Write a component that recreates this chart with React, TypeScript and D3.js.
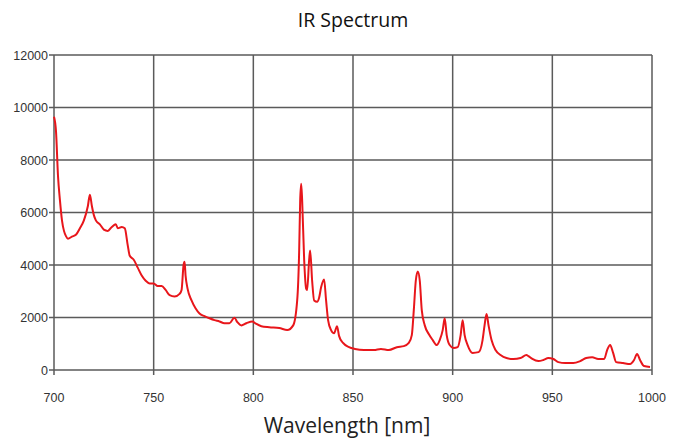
import React from "react";
import * as d3 from "d3";

const wavelength = [
  700, 701, 702, 703, 704, 705, 706, 707, 709, 711, 713, 715, 717, 718, 719, 720, 721, 723, 725, 727, 729, 731, 732, 734, 735.5,
  737, 738, 740, 742, 744, 746, 748, 750, 752, 754, 756, 758, 760.5, 763, 764, 765, 765.5, 766, 767, 769, 771, 773, 775.5, 778,
  780.5, 783, 785.5, 788, 790.5, 792, 794, 796.5, 799.5, 801, 804, 808, 813, 817, 820, 822, 823, 823.5, 824, 824.5, 825.5, 826.5,
  827, 828, 828.5, 829.5, 830.5, 832, 833, 834, 835.5, 836.5, 837.5, 839, 840.5, 842, 843, 845, 848, 851, 855.5, 860.5, 864, 868,
  872, 875.5, 878, 879.5, 880.5, 881.5, 882.5, 883.5, 884.5, 886, 888, 890, 892, 893.5, 895, 896, 897, 898.5, 900.5, 902.5, 904,
  905, 906, 907.5, 910, 913, 915, 916, 917, 918, 919.5, 921.5, 924, 927, 930.5, 934, 937, 938, 940, 943, 945.5, 948, 950.5, 953,
  956.5, 960.5, 964, 967, 970, 973, 976, 977.5, 979, 980.5, 982, 985.5, 989, 991, 992.5, 994, 996, 999,
];

const intensity = [
  9650, 9100, 7400, 6450, 5700, 5300, 5100, 5000, 5080, 5150, 5400, 5700, 6250, 6680, 6250, 5900, 5700, 5550, 5350, 5300, 5450, 5550, 5400, 5450, 5400,
  4750, 4350, 4200, 3900, 3600, 3400, 3300, 3300, 3200, 3200, 3050, 2850, 2800, 2900, 3050, 4000, 4120, 3600, 3100, 2650, 2350, 2150, 2050, 1970,
  1900, 1850, 1780, 1780, 1990, 1820, 1700, 1780, 1850, 1780, 1670, 1630, 1600, 1520, 1700, 2650, 4550, 6450, 7100, 6450, 4200, 3100,
  3050, 4200, 4550, 3400, 2650, 2600, 2750, 3150, 3450, 2650, 1900, 1520, 1400, 1670, 1300, 1030, 870, 800, 760, 760, 800, 760,
  870, 910, 1030, 1330, 2280, 3400, 3750, 3400, 2280, 1700, 1370, 1140, 950, 1140, 1520, 1970, 1330, 950, 835, 870, 1330,
  1900, 1330, 950, 650, 680, 1140, 1700, 2130, 1700, 1140, 760, 570, 455, 420, 455, 570, 530, 420, 340, 380, 455, 420, 300,
  265, 265, 340, 455, 490, 420, 420, 760, 950, 650, 300, 265, 230, 380, 610, 380, 150, 115,
];

const xTicks = [700, 750, 800, 850, 900, 950, 1000];
const yTicks = [0, 2000, 4000, 6000, 8000, 10000, 12000];
const title = "IR Spectrum";
const xLabel = "Wavelength [nm]";

export default function App() {
  const W = 674, H = 439;
  const left = 54, right = 652, top = 55, bottom = 370;
  const x = d3.scaleLinear().domain([700, 1000]).range([left, right]);
  const y = d3.scaleLinear().domain([0, 12000]).range([bottom, top]);
  const pts: [number, number][] = wavelength.map((w, i) => [w, intensity[i]]);
  const line = d3.line<[number, number]>().x(d => x(d[0])).y(d => y(d[1])).curve(d3.curveMonotoneX);
  const grid = "#5a5a5a";
  return (
    <svg width={W} height={H} style={{ position: "absolute", left: 0, top: 0, background: "#fff" }}>
      <text x={(left + right) / 2} y={27} textAnchor="middle" fontFamily="Open Sans" fontSize={19.5} fill="#111">{title}</text>
      {yTicks.map(t => (
        <g key={"y" + t}>
          <line x1={left - 5} x2={right} y1={y(t)} y2={y(t)} stroke={grid} strokeWidth={1.5} />
          <text x={left - 6} y={y(t) + 4.5} textAnchor="end" fontFamily="Liberation Sans" fontSize={12.5} fill="#333">{t}</text>
        </g>
      ))}
      {xTicks.map(t => (
        <g key={"x" + t}>
          <line x1={x(t)} x2={x(t)} y1={top} y2={bottom + 5} stroke={grid} strokeWidth={1.5} />
          <text x={x(t)} y={bottom + 32} textAnchor="middle" fontFamily="Liberation Sans" fontSize={12.5} fill="#333">{t}</text>
        </g>
      ))}
      <path d={line(pts) || ""} fill="none" stroke="#e8161b" strokeWidth={2} strokeLinejoin="round" />
      <text x={(left + right) / 2 - 6} y={433} textAnchor="middle" fontFamily="Open Sans" fontSize={21} fill="#222">{xLabel}</text>
    </svg>
  );
}
